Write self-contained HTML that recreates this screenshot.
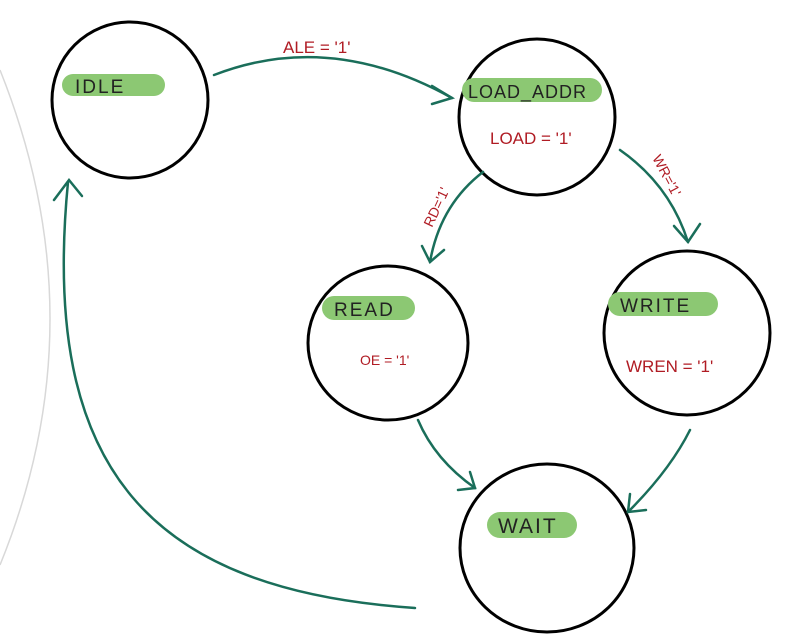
<!DOCTYPE html>
<html><head><style>
html,body{margin:0;padding:0;background:#fff;}
svg{display:block;}
text{font-family:"Liberation Sans",sans-serif;}
</style></head><body>
<svg width="795" height="641" viewBox="0 0 795 641" xmlns="http://www.w3.org/2000/svg">
<path d="M0,70 Q100,320 0,565" fill="none" stroke="#d8d8d8" stroke-width="1.5"/>
<g fill="none" stroke="#000" stroke-width="3">
<ellipse cx="130" cy="100" rx="78" ry="78"/>
<ellipse cx="537" cy="117" rx="78" ry="78"/>
<ellipse cx="388" cy="343" rx="80" ry="77"/>
<ellipse cx="687" cy="333" rx="83" ry="82"/>
<ellipse cx="547" cy="548" rx="87" ry="84"/>
</g>
<g fill="#8cc873">
<rect x="62" y="74" width="103" height="22" rx="11"/>
<rect x="462" y="78" width="140" height="24" rx="12"/>
<rect x="322" y="296" width="93" height="24" rx="12"/>
<rect x="608" y="292" width="110" height="24" rx="12"/>
<rect x="487" y="512" width="90" height="26" rx="13"/>
</g>
<g fill="#222" font-size="19" letter-spacing="2">
<text x="75" y="93">IDLE</text>
<text x="468" y="98" font-size="18" letter-spacing="1">LOAD_ADDR</text>
<text x="334" y="316">READ</text>
<text x="620" y="312">WRITE</text>
<text x="498" y="533" font-size="21">WAIT</text>
</g>
<g fill="#b01c24" font-size="17">
<text x="283" y="53">ALE = '1'</text>
<text x="490" y="144" font-size="17">LOAD = '1'</text>
<text x="360" y="365" font-size="14">OE = '1'</text>
<text x="626" y="372" font-size="17">WREN = '1'</text>
<text transform="translate(432,228) rotate(-65)" font-size="14">RD='1'</text>
<text transform="translate(652,158) rotate(62)" font-size="14">WR='1'</text>
</g>
<g fill="none" stroke="#1a6e5a" stroke-width="2.5" stroke-linecap="round">
<path d="M214,75 Q330,30 452,98"/>
<path d="M432,86 L452,98 L432,104"/>
<path d="M483,172 Q440,205 430,262"/>
<path d="M422,246 L430,262 L444,250"/>
<path d="M620,150 Q670,185 688,242"/>
<path d="M674,226 L688,242 L700,224"/>
<path d="M418,420 Q435,460 475,488"/>
<path d="M458,490 L475,488 L470,472"/>
<path d="M690,430 Q670,470 628,512"/>
<path d="M630,494 L628,512 L646,510"/>
<path d="M415,608 C150,590 40,470 68,182"/>
<path d="M54,200 L69,180 L82,196"/>
</g>
</svg>
</body></html>
